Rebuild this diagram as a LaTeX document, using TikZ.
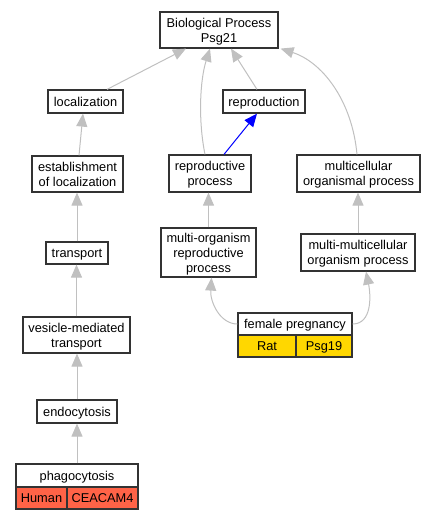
\documentclass[tikz,border=0pt]{standalone}
\usepackage{fontspec}
\setmainfont{Liberation Sans}
\usetikzlibrary{arrows.meta}
\definecolor{edgegray}{HTML}{C0C0C0}
\definecolor{humanred}{HTML}{FF6347}
\definecolor{ratgold}{HTML}{FFD700}
\tikzset{
  term/.style    = {shape=rectangle, draw=black!80, line width=1.2pt,
                    fill=white, align=center, inner sep=0pt, text depth=0pt,
                    font=\fontsize{12.8}{15}\selectfont},
  human/.style   = {term, fill=humanred},
  rat/.style     = {term, fill=ratgold},
  isa/.style     = {draw=edgegray, line width=1pt,
                    -{Triangle[length=13pt,width=11pt]}},
  partof/.style  = {isa, draw=blue}
}

\begin{document}
\begin{tikzpicture}[x=1pt,y=-1pt]
  \useasboundingbox (0,0) rectangle (436,520);

  % terms
  \node [term, minimum width=118, minimum height=36] (bp)     at (219,30)    {Biological Process\\Psg21};
  \node [term, minimum width=82,  minimum height=23] (repro)  at (264,101.5) {reproduction};
  \node [term, minimum width=75,  minimum height=23] (loc)    at (85.5,101.5) {localization};
  \node [term, minimum width=82,  minimum height=37] (rproc)  at (210,173.5) {reproductive\\process};
  \node [term, minimum width=123, minimum height=37] (multi)  at (358.5,173.5) {multicellular\\organismal process};
  \node [term, minimum width=91,  minimum height=36] (estab)  at (77.5,174)  {establishment\\of localization};
  \node [term, minimum width=62,  minimum height=22] (transp) at (77,253)    {transport};
  \node [term, minimum width=95,  minimum height=49] (morp)   at (208.5,252.5) {multi-organism\\reproductive\\process};
  \node [term, minimum width=114, minimum height=37] (mmop)   at (358,252.5) {multi-multicellular\\organism process};
  \node [term, minimum width=107, minimum height=36] (vmt)    at (76.5,335)  {vesicle-mediated\\transport};
  \node [term, minimum width=80,  minimum height=23] (endo)   at (77,411.5)  {endocytosis};

  % annotated terms
  \node [term, minimum width=114, minimum height=22] (fp)     at (295,324)   {female pregnancy};
  \node [rat,  minimum width=58,  minimum height=22] (fprat)  at (267,346)   {Rat};
  \node [rat,  minimum width=56,  minimum height=22] (fpgene) at (324,346)   {Psg19};
  \node [term, minimum width=122, minimum height=23] (phago)  at (77,475.5)  {phagocytosis};
  \node [human, minimum width=51, minimum height=22] (phhum)  at (41.5,498)  {Human};
  \node [human, minimum width=71, minimum height=22] (phgene) at (102.5,498) {CEACAM4};

  % is_a edges
  \draw [isa] ([xshift=21.5]loc.north) -- ([xshift=-33]bp.south);
  \draw [isa] ([xshift=-7]repro.north) -- ([xshift=12]bp.south);
  \draw [isa] ([xshift=-5]rproc.north) .. controls (198,120) and (200,80) .. ([xshift=-9]bp.south);
  \draw [isa] ([xshift=-1.5]multi.north) .. controls (352,100) and (322,62) .. ([xshift=2]bp.south east);
  \draw [partof] ([xshift=14]rproc.north) -- ([xshift=-7]repro.south);
  \draw [isa] ([xshift=1.5]estab.north) -- ([xshift=-2.5]loc.south);
  \draw [isa] (transp.north) -- (transp.north |- estab.south);
  \draw [isa] (vmt.north) -- (vmt.north |- transp.south);
  \draw [isa] (endo.north) -- (endo.north |- vmt.south);
  \draw [isa] (phago.north) -- (phago.north |- endo.south);
  \draw [isa] (morp.north) -- (morp.north |- rproc.south);
  \draw [isa] (mmop.north) -- (mmop.north |- multi.south);
  \draw [isa] (fp.west) .. controls (220,324) and (210,302) .. ([xshift=3]morp.south);
  \draw [isa] (fp.east) .. controls (372,324) and (371,296) .. ([xshift=8]mmop.south);
\end{tikzpicture}
\end{document}
